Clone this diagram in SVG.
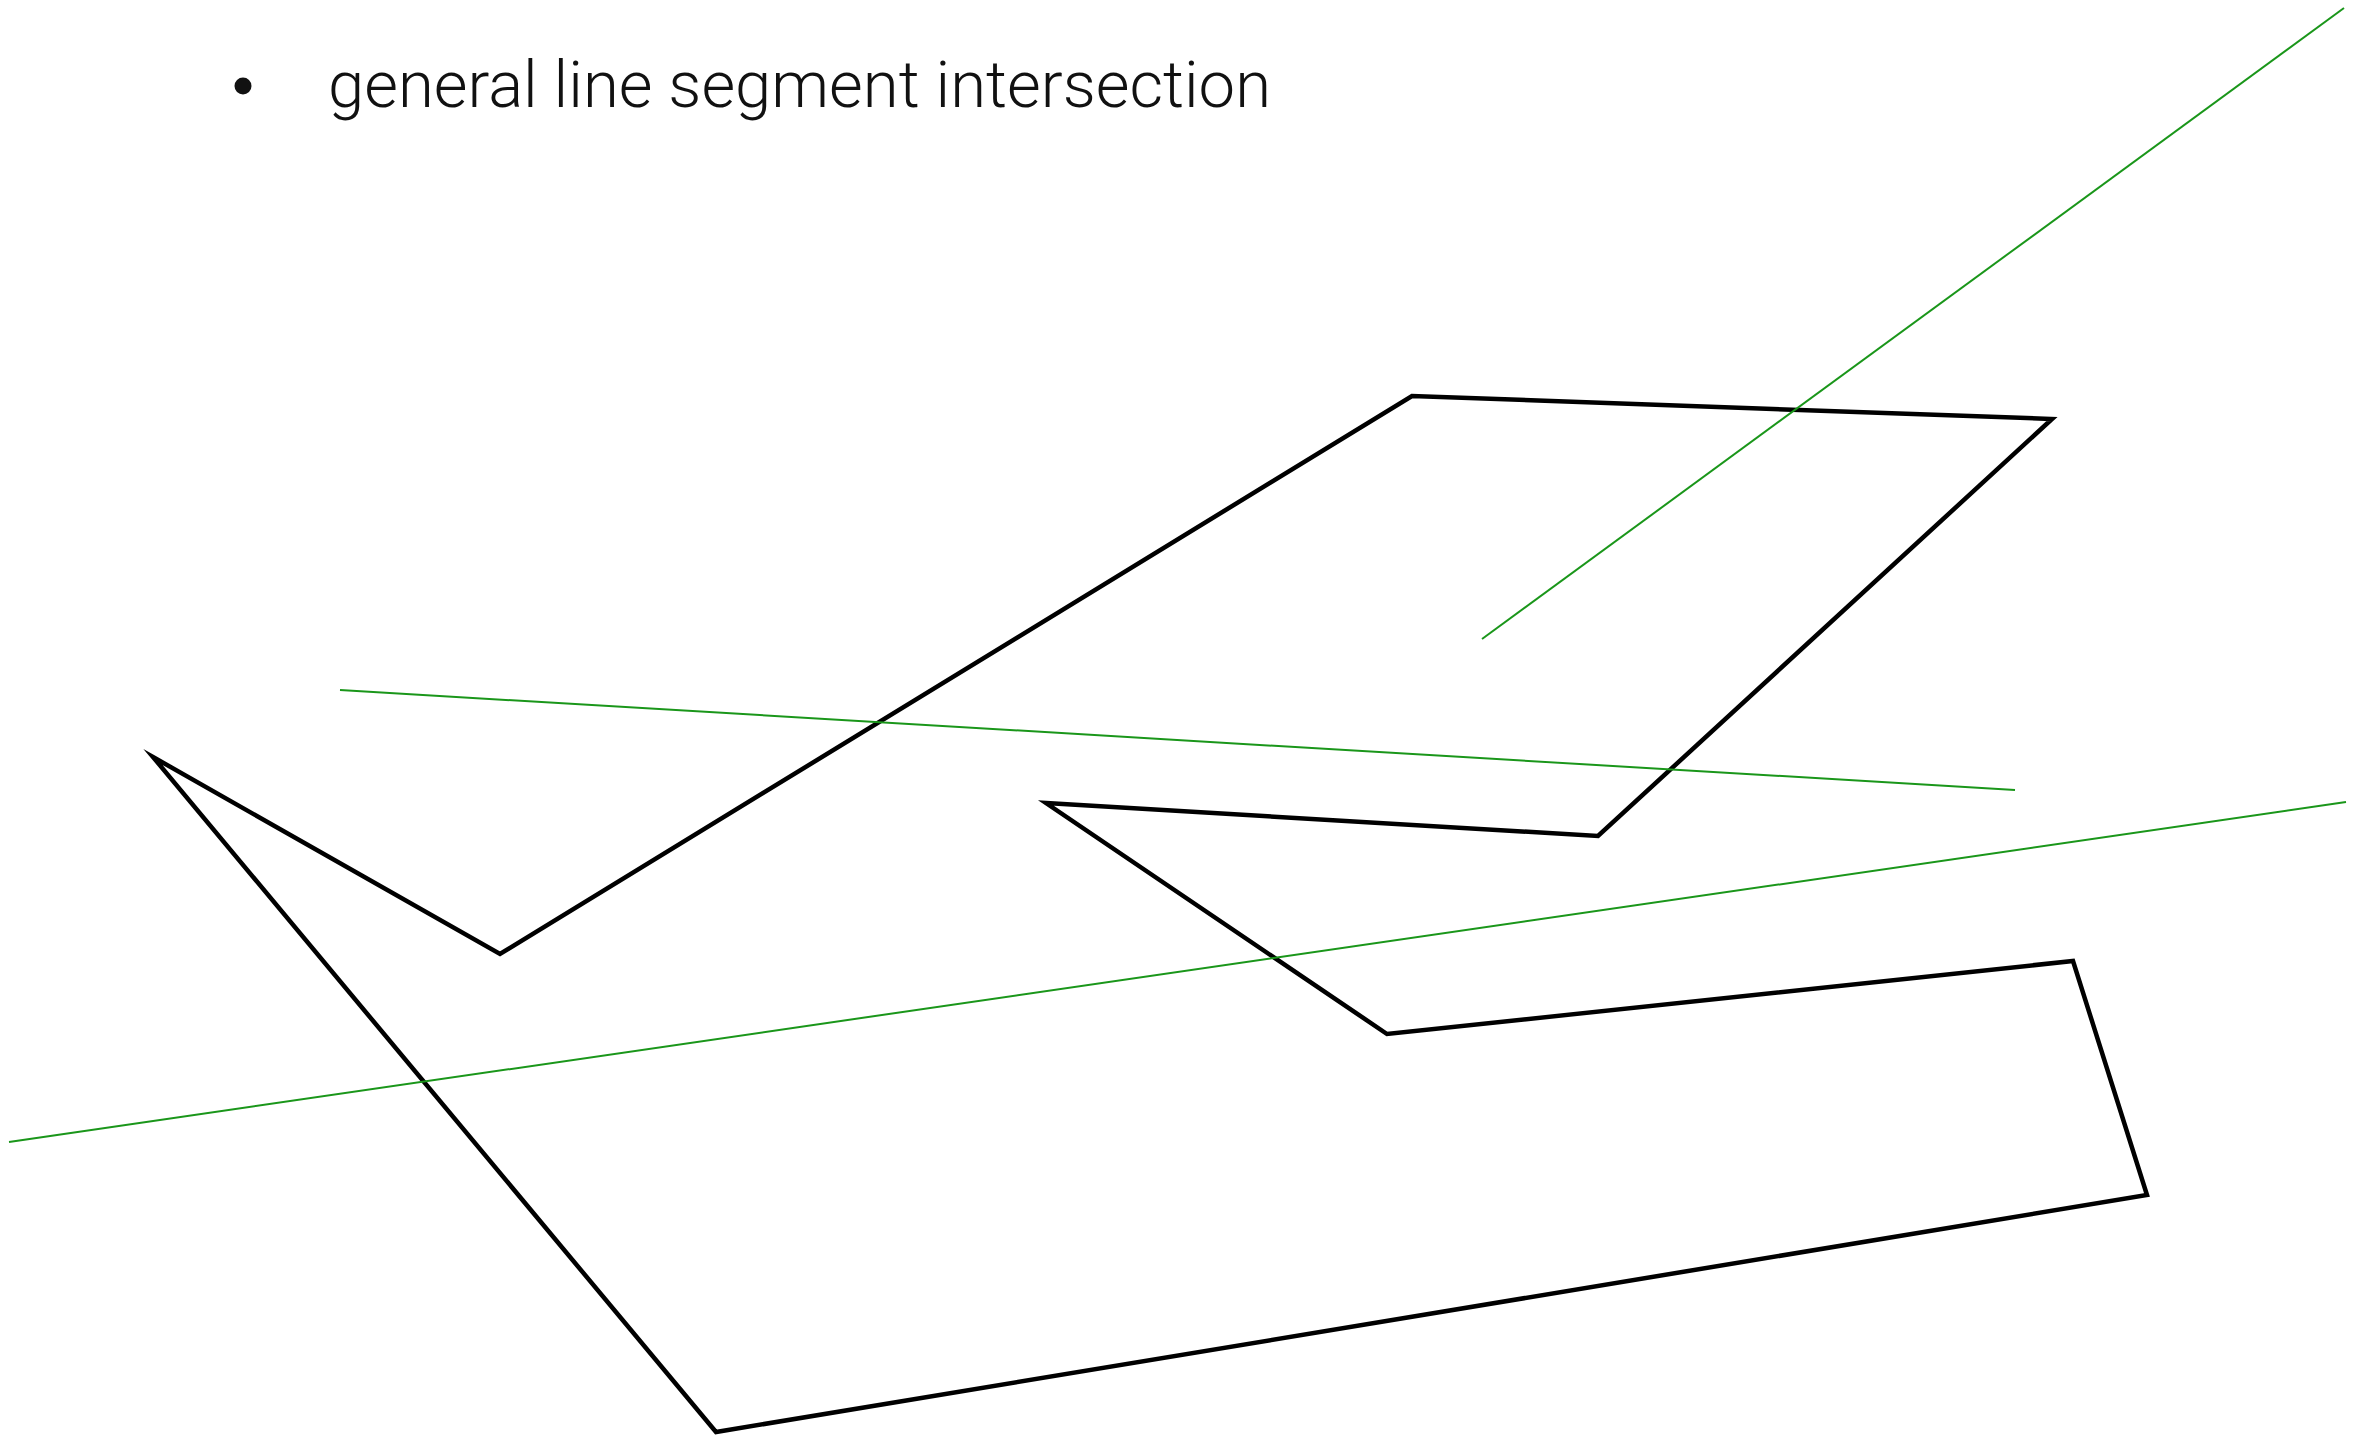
<svg xmlns="http://www.w3.org/2000/svg" width="2356" height="1438" viewBox="0 0 2356 1438">
  <style>
    .title { font-family: "Roboto", "Liberation Sans", Arial, sans-serif; font-weight: 300; font-size: 64px; fill: #111; }
    .poly { fill: none; stroke: #000; stroke-width: 4.5; stroke-linejoin: miter; stroke-miterlimit: 10; }
    .seg { stroke: #1a961a; stroke-width: 2; fill: none; }
  </style>
  <rect width="2356" height="1438" fill="#fff"/>

  <g id="heading">
    <circle cx="243" cy="86" r="8.5" fill="#111"/>
    <text class="title" x="328" y="107" textLength="943" lengthAdjust="spacingAndGlyphs">general line segment intersection</text>
  </g>

  <g id="polygon">
    <polygon class="poly" points="153,757 500,954 1412,396 2052,419 1598,836 1046,803 1387,1034 2073,961 2147,1195 716,1432"/>
  </g>

  <g id="segments">
    <line class="seg" x1="1482" y1="639" x2="2344" y2="8"/>
    <line class="seg" x1="340" y1="690" x2="2015" y2="790"/>
    <line class="seg" x1="9" y1="1142" x2="2346" y2="802"/>
  </g>
</svg>
